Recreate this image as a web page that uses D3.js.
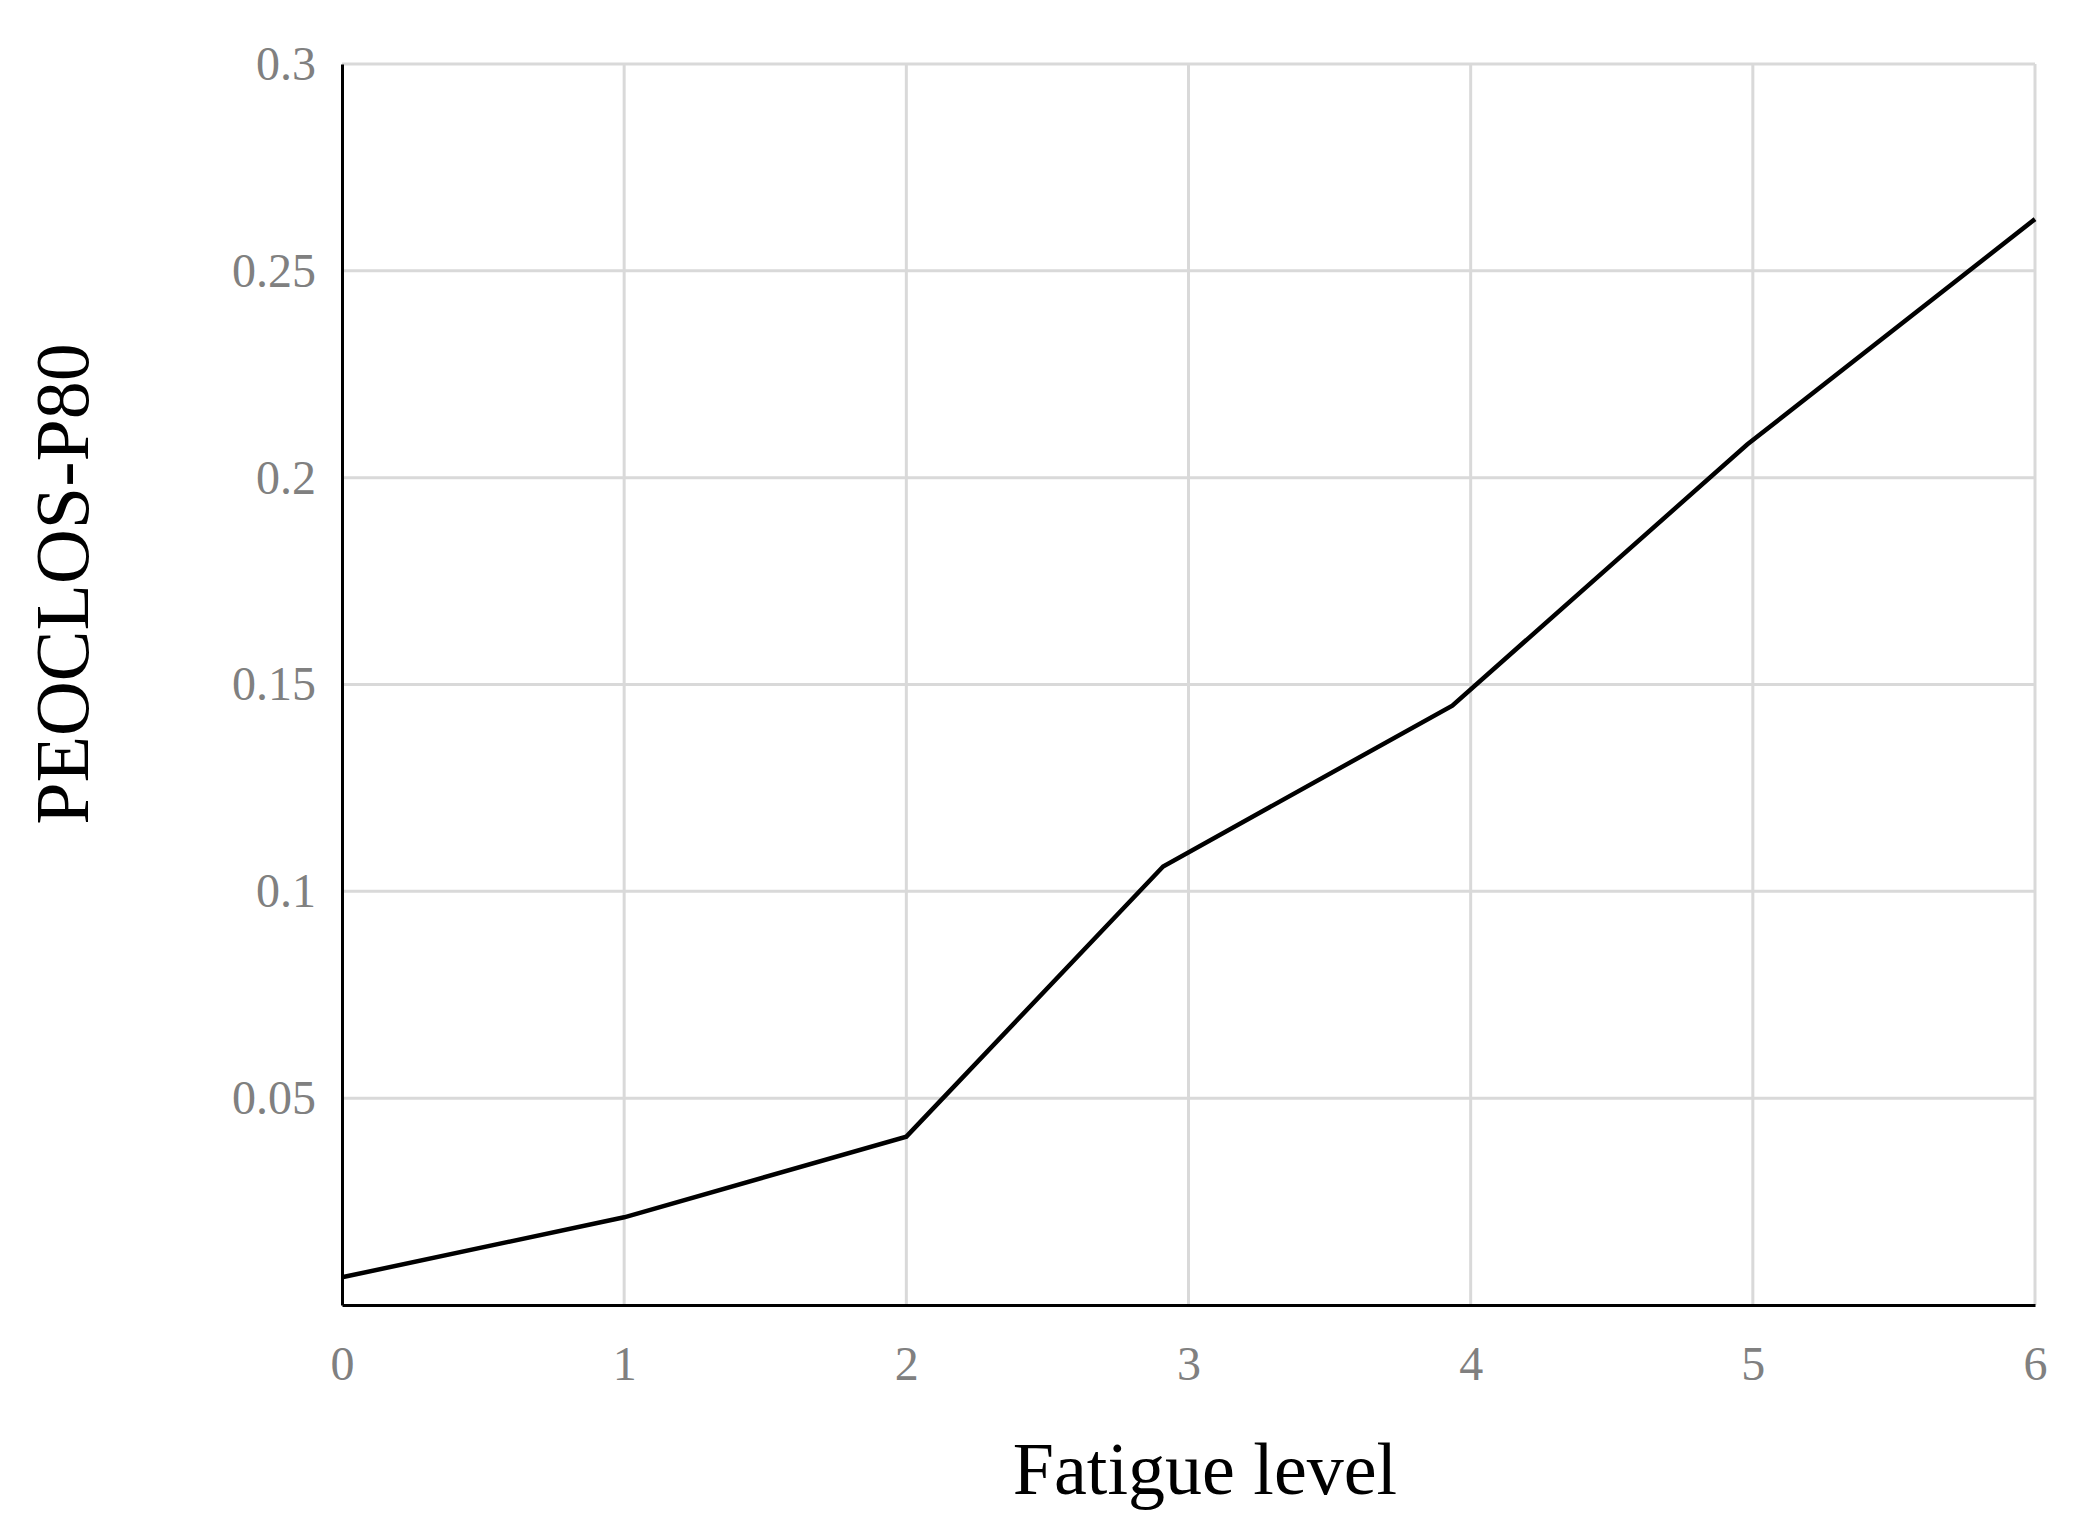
<!DOCTYPE html>
<html><head><meta charset="utf-8">
<script src="https://cdn.jsdelivr.net/npm/d3@7"></script>
<style>body{margin:0;background:#fff}</style></head>
<body><svg id="c" width="2080" height="1538"></svg>
<script>
const xValues = [0, 1, 2, 2.91, 3.935, 4.98, 6];
const yValues = [0.0067, 0.0212, 0.0407, 0.106, 0.1449, 0.208, 0.2625];
const xTicks = [0, 1, 2, 3, 4, 5, 6];
const yTicks = [0.05, 0.1, 0.15, 0.2, 0.25, 0.3];
const xTitle = "Fatigue level";
const yTitle = "PEOCLOS-P80";

const svg = d3.select("#c");
const L = 342, R = 2035, T = 64, B = 1305;
const x = d3.scaleLinear().domain([0, 6]).range([L, R]);
const y = d3.scaleLinear().domain([0, 0.3]).range([B, T]);
const font = "'Liberation Serif', 'Times New Roman', serif";

svg.append("g").selectAll("line.v").data(xTicks.slice(1)).join("line")
  .attr("x1", d => x(d)).attr("x2", d => x(d)).attr("y1", T).attr("y2", B)
  .attr("stroke", "#d9d9d9").attr("stroke-width", 3);
svg.append("g").selectAll("line.h").data(yTicks).join("line")
  .attr("x1", L).attr("x2", R).attr("y1", d => y(d)).attr("y2", d => y(d))
  .attr("stroke", "#d9d9d9").attr("stroke-width", 3);

const xa = svg.append("g").attr("transform", `translate(0,${B})`)
  .call(d3.axisBottom(x).tickValues(xTicks).tickSize(0).tickFormat(d3.format("d")));
const ya = svg.append("g").attr("transform", `translate(${L},0)`)
  .call(d3.axisLeft(y).tickValues(yTicks).tickSize(0).tickFormat(d => String(d)));
[xa, ya].forEach(a => {
  a.select(".domain").attr("stroke", "#000").attr("stroke-width", 3);
  a.selectAll("text").attr("font-family", font).attr("font-size", 48).attr("fill", "#808080");
});
xa.selectAll("text").attr("dy", "1.1em").attr("y", 22);
ya.selectAll("text").attr("x", -26);

svg.append("path")
  .datum(xValues.map((v, i) => [v, yValues[i]]))
  .attr("fill", "none").attr("stroke", "#000").attr("stroke-width", 4.5)
  .attr("d", d3.line().x(d => x(d[0])).y(d => y(d[1])));

svg.append("text").attr("x", 1205).attr("y", 1494).attr("text-anchor", "middle")
  .attr("font-family", font).attr("font-size", 74).text(xTitle);
svg.append("text").attr("transform", `translate(88,584) rotate(-90)`)
  .attr("text-anchor", "middle").attr("font-family", font).attr("font-size", 76).text(yTitle);
</script></body></html>
